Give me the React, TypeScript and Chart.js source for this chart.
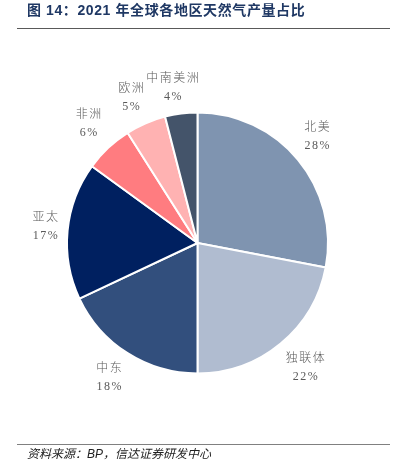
import React, { useEffect, useRef } from "react";
import { Chart, registerables } from "chart.js";

Chart.register(...registerables);

const categories = ["北美", "独联体", "中东", "亚太", "非洲", "欧洲", "中南美洲"];
const shares = [28, 22, 18, 17, 6, 5, 4];
const shareLabels = ["28%", "22%", "18%", "17%", "6%", "5%", "4%"];
const colors = ["#7F94B0", "#B0BCD0", "#324F7D", "#002060", "#FF7C80", "#FFB2B2", "#44546A"];

const W = 397;
const H = 462;

const labelPlugin = {
  id: "outerLabels",
  afterDatasetsDraw(chart: any) {
    const ctx = chart.ctx;
    const meta = chart.getDatasetMeta(0);
    ctx.save();
    ctx.font = '300 12px "Liberation Serif", "Noto Sans CJK SC", serif';
    ctx.fillStyle = "#595959";
    ctx.textAlign = "center";
    ctx.textBaseline = "middle";
    try { (ctx as any).letterSpacing = "1.5px"; } catch (e) {}
    meta.data.forEach((arc: any, i: number) => {
      const p = arc.getProps(["x", "y", "startAngle", "endAngle", "outerRadius"], true);
      const mid = (p.startAngle + p.endAngle) / 2;
      const dx = Math.cos(mid);
      const dy = Math.sin(mid);
      const l1 = categories[i];
      const l2 = shareLabels[i];
      const w = Math.max(ctx.measureText(l1).width, ctx.measureText(l2).width);
      const h = 36;
      const gap = 8;
      const clamp = (v: number) => Math.max(-1, Math.min(1, v));
      const cx = p.x + (p.outerRadius + gap) * dx + (w / 2) * clamp(2 * dx);
      const cy = p.y + (p.outerRadius + gap) * dy + (h / 2) * clamp(2 * dy);
      ctx.fillText(l1, cx, cy - 9);
      ctx.fillText(l2, cx, cy + 9);
    });
    ctx.restore();
  },
};

export default function App() {
  const ref = useRef<HTMLCanvasElement | null>(null);
  useEffect(() => {
    if (!ref.current) return;
    const chart = new Chart(ref.current, {
      type: "pie",
      data: {
        labels: categories,
        datasets: [
          {
            data: shares,
            backgroundColor: colors,
            borderColor: "#FFFFFF",
            borderWidth: 2,
            hoverOffset: 0,
          },
        ],
      },
      options: {
        animation: false,
        responsive: false,
        maintainAspectRatio: false,
        layout: { padding: { left: 66, right: 68, top: 111, bottom: 87 } },
        plugins: {
          legend: { display: false },
          tooltip: { enabled: false },
        },
      },
      plugins: [labelPlugin],
    });
    return () => chart.destroy();
  }, []);

  return (
    <div style={{ position: "fixed", left: 0, top: 0, width: W, height: H, background: "#fff" }}>
      <canvas ref={ref} width={W} height={H} style={{ position: "absolute", left: 0, top: 0, width: W, height: H }} />
      <div
        style={{
          position: "absolute",
          left: 27,
          top: 1,
          fontFamily: '"Liberation Sans", "Noto Sans CJK SC", sans-serif',
          fontWeight: 700,
          fontSize: 14,
          letterSpacing: "0.6px",
          lineHeight: "18px",
          color: "#1F3864",
          whiteSpace: "nowrap",
        }}
      >
        图 14：2021 年全球各地区天然气产量占比
      </div>
      <div style={{ position: "absolute", left: 17, top: 28, width: 373, height: 1, background: "#595959" }} />
      <div style={{ position: "absolute", left: 17, top: 444, width: 373, height: 1, background: "#808080" }} />
      <div
        style={{
          position: "absolute",
          left: 27,
          top: 447,
          fontFamily: '"Liberation Sans", "Noto Sans CJK SC", sans-serif',
          fontStyle: "italic",
          fontSize: 12,
          lineHeight: "15px",
          color: "#222",
          whiteSpace: "nowrap",
        }}
      >
        资料来源：BP，信达证券研发中心
      </div>
    </div>
  );
}
